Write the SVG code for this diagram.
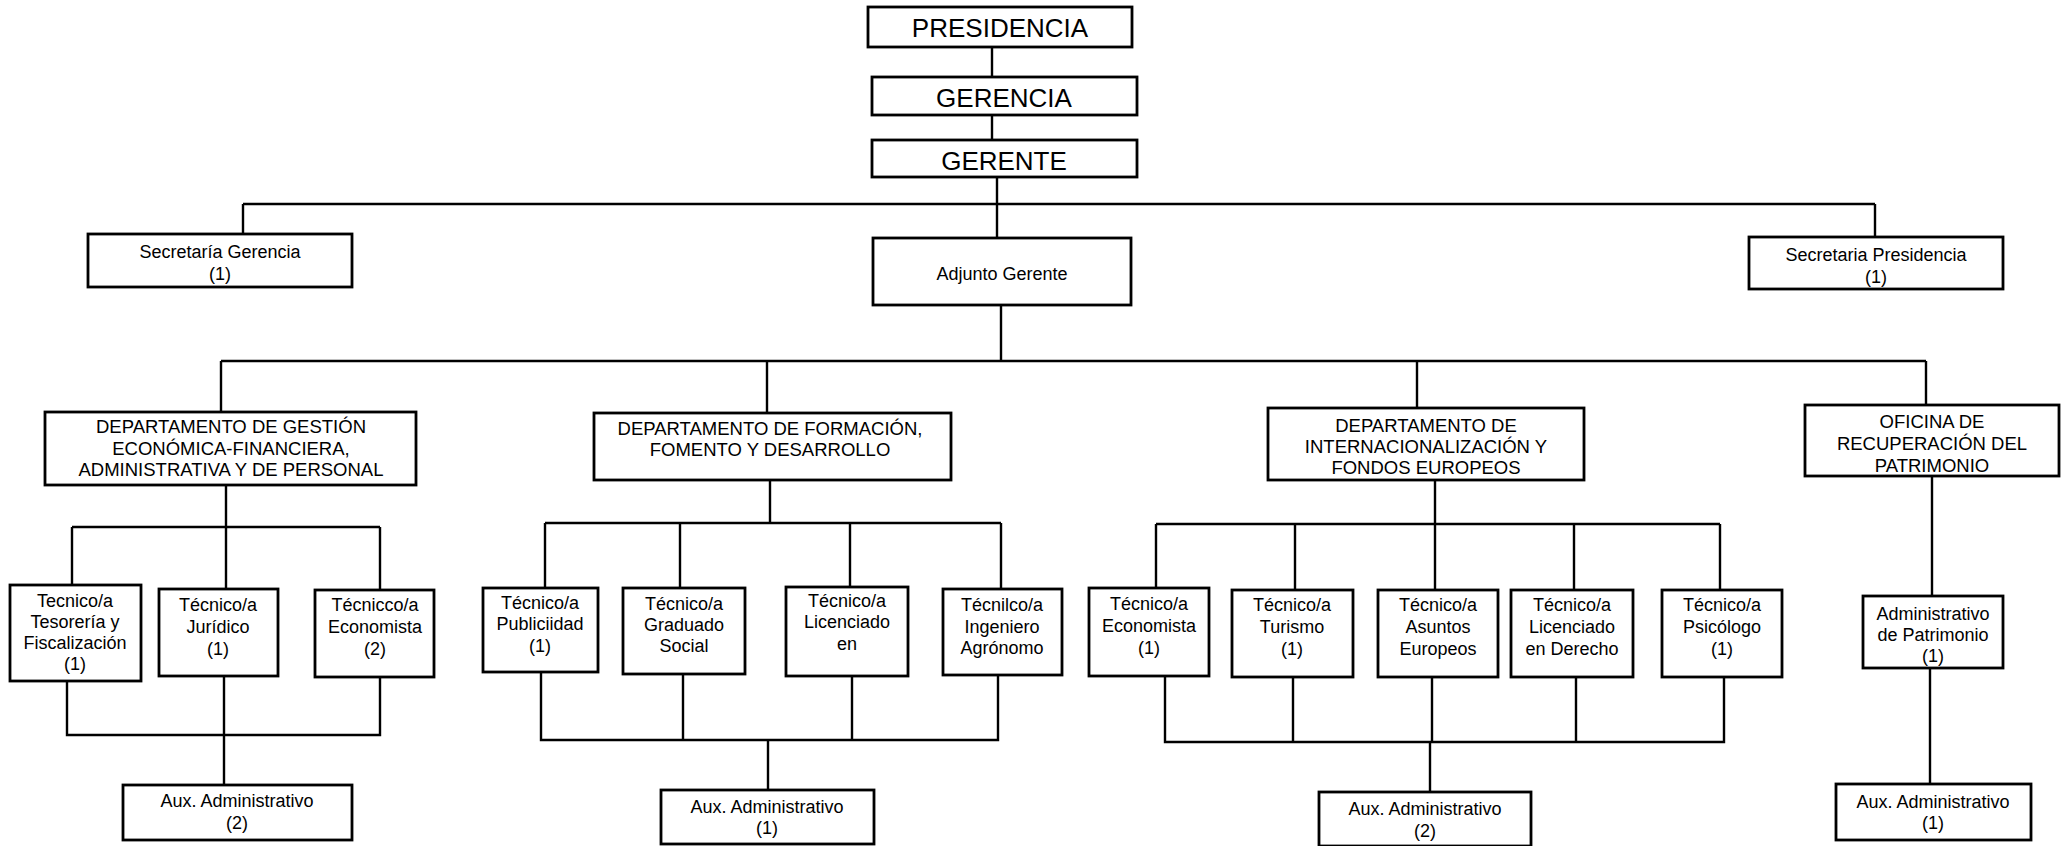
<svg xmlns="http://www.w3.org/2000/svg" width="2065" height="846" viewBox="0 0 2065 846">
<style>
.b{fill:#fff;stroke:#000;stroke-width:2.8}
.c{fill:none;stroke:#000;stroke-width:2.4}
text{font-family:"Liberation Sans",Arial,sans-serif;fill:#000;text-anchor:middle}
.L{font-size:26px}
.D{font-size:18.5px}
.S{font-size:18px}
</style>
<rect width="2065" height="846" fill="#fff"/>
<g id="connectors">
<path class="c" d="M992 47V77M992 115V140M997 177V238M243 204H1875M243 204V234M1875 204V237"/>
<path class="c" d="M1001 305V361M221 361H1926M221 361V412M767 361V413M1417 361V408M1926 361V405"/>
<path class="c" d="M226 485V527M72 527H380M72 527V585M226 527V589M380 527V590"/>
<path class="c" d="M67 664V735H380V677M224 676V785"/>
<path class="c" d="M770 480V523M545 523H1001M545 523V588M680 523V588M850 523V587M1001 523V589"/>
<path class="c" d="M541 672V740H998V675M683 674V740M852 676V740M768 740V790"/>
<path class="c" d="M1435 480V524M1156 524H1720M1156 524V588M1295 524V590M1435 524V590M1574 524V590M1720 524V590"/>
<path class="c" d="M1165 676V742H1724V677M1293 677V742M1432 677V742M1576 677V742M1430 742V792"/>
<path class="c" d="M1932 476V596M1930 668V784"/>
</g>
<g id="presidencia"><rect class="b" x="868" y="7" width="264" height="40"/><text class="L" x="1000" y="37">PRESIDENCIA</text></g>
<g id="gerencia"><rect class="b" x="872" y="77" width="265" height="38"/><text class="L" x="1004" y="107">GERENCIA</text></g>
<g id="gerente"><rect class="b" x="872" y="140" width="265" height="37"/><text class="L" x="1004" y="170">GERENTE</text></g>
<g id="sec_gerencia"><rect class="b" x="88" y="234" width="264" height="53"/><text class="S" x="220" y="258">Secretaría Gerencia</text><text class="S" x="220" y="280">(1)</text></g>
<g id="adjunto"><rect class="b" x="873" y="238" width="258" height="67"/><text class="S" x="1002" y="280">Adjunto Gerente</text></g>
<g id="sec_presidencia"><rect class="b" x="1749" y="237" width="254" height="52"/><text class="S" x="1876" y="261">Secretaria Presidencia</text><text class="S" x="1876" y="283">(1)</text></g>
<g id="dept1"><rect class="b" x="45" y="412" width="371" height="73"/><text class="D" x="231" y="433">DEPARTAMENTO DE GESTIÓN</text><text class="D" x="231" y="455">ECONÓMICA-FINANCIERA,</text><text class="D" x="231" y="476">ADMINISTRATIVA Y DE PERSONAL</text></g>
<g id="dept2"><rect class="b" x="594" y="413" width="357" height="67"/><text class="D" x="770" y="435">DEPARTAMENTO DE FORMACIÓN,</text><text class="D" x="770" y="456">FOMENTO Y DESARROLLO</text></g>
<g id="dept3"><rect class="b" x="1268" y="408" width="316" height="72"/><text class="D" x="1426" y="432">DEPARTAMENTO DE</text><text class="D" x="1426" y="453">INTERNACIONALIZACIÓN Y</text><text class="D" x="1426" y="474">FONDOS EUROPEOS</text></g>
<g id="oficina"><rect class="b" x="1805" y="405" width="254" height="71"/><text class="D" x="1932" y="428">OFICINA DE</text><text class="D" x="1932" y="450">RECUPERACIÓN DEL</text><text class="D" x="1932" y="472">PATRIMONIO</text></g>
<g id="t_tesoreria"><rect class="b" x="10" y="585" width="131" height="96"/><text class="S" x="75" y="607">Tecnico/a</text><text class="S" x="75" y="628">Tesorería y</text><text class="S" x="75" y="649">Fiscalización</text><text class="S" x="75" y="670">(1)</text></g>
<g id="t_juridico"><rect class="b" x="159" y="589" width="119" height="87"/><text class="S" x="218" y="611">Técnico/a</text><text class="S" x="218" y="633">Jurídico</text><text class="S" x="218" y="655">(1)</text></g>
<g id="t_economista1"><rect class="b" x="315" y="590" width="119" height="87"/><text class="S" x="375" y="611">Técnicco/a</text><text class="S" x="375" y="633">Economista</text><text class="S" x="375" y="655">(2)</text></g>
<g id="aux1"><rect class="b" x="123" y="785" width="229" height="55"/><text class="S" x="237" y="807">Aux. Administrativo</text><text class="S" x="237" y="829">(2)</text></g>
<g id="t_publicidad"><rect class="b" x="483" y="588" width="115" height="84"/><text class="S" x="540" y="609">Técnico/a</text><text class="S" x="540" y="630">Publiciidad</text><text class="S" x="540" y="652">(1)</text></g>
<g id="t_graduado"><rect class="b" x="623" y="588" width="122" height="86"/><text class="S" x="684" y="610">Técnico/a</text><text class="S" x="684" y="631">Graduado</text><text class="S" x="684" y="652">Social</text></g>
<g id="t_licenciado"><rect class="b" x="786" y="587" width="122" height="89"/><text class="S" x="847" y="607">Técnico/a</text><text class="S" x="847" y="628">Licenciado</text><text class="S" x="847" y="650">en</text></g>
<g id="t_ingeniero"><rect class="b" x="943" y="589" width="119" height="86"/><text class="S" x="1002" y="611">Técnilco/a</text><text class="S" x="1002" y="633">Ingeniero</text><text class="S" x="1002" y="654">Agrónomo</text></g>
<g id="aux2"><rect class="b" x="661" y="790" width="213" height="54"/><text class="S" x="767" y="813">Aux. Administrativo</text><text class="S" x="767" y="834">(1)</text></g>
<g id="t_economista3"><rect class="b" x="1089" y="588" width="120" height="88"/><text class="S" x="1149" y="610">Técnico/a</text><text class="S" x="1149" y="632">Economista</text><text class="S" x="1149" y="654">(1)</text></g>
<g id="t_turismo"><rect class="b" x="1232" y="590" width="121" height="87"/><text class="S" x="1292" y="611">Técnico/a</text><text class="S" x="1292" y="633">Turismo</text><text class="S" x="1292" y="655">(1)</text></g>
<g id="t_asuntos"><rect class="b" x="1378" y="590" width="120" height="87"/><text class="S" x="1438" y="611">Técnico/a</text><text class="S" x="1438" y="633">Asuntos</text><text class="S" x="1438" y="655">Europeos</text></g>
<g id="t_derecho"><rect class="b" x="1511" y="590" width="122" height="87"/><text class="S" x="1572" y="611">Técnico/a</text><text class="S" x="1572" y="633">Licenciado</text><text class="S" x="1572" y="655">en Derecho</text></g>
<g id="t_psicologo"><rect class="b" x="1662" y="590" width="120" height="87"/><text class="S" x="1722" y="611">Técnico/a</text><text class="S" x="1722" y="633">Psicólogo</text><text class="S" x="1722" y="655">(1)</text></g>
<g id="aux3"><rect class="b" x="1319" y="792" width="212" height="54"/><text class="S" x="1425" y="815">Aux. Administrativo</text><text class="S" x="1425" y="837">(2)</text></g>
<g id="admin_patrimonio"><rect class="b" x="1863" y="596" width="140" height="72"/><text class="S" x="1933" y="620">Administrativo</text><text class="S" x="1933" y="641">de Patrimonio</text><text class="S" x="1933" y="662">(1)</text></g>
<g id="aux4"><rect class="b" x="1836" y="784" width="195" height="56"/><text class="S" x="1933" y="808">Aux. Administrativo</text><text class="S" x="1933" y="829">(1)</text></g>
</svg>
